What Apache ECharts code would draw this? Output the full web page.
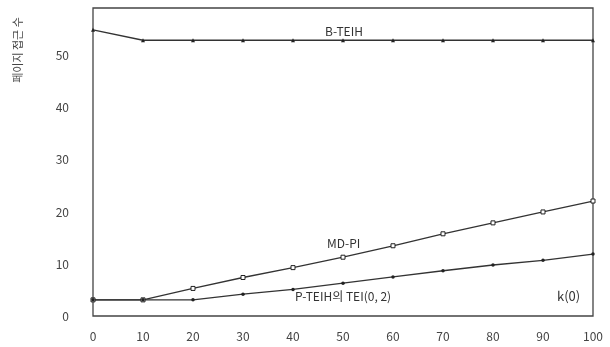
<!DOCTYPE html>
<html><head><meta charset="utf-8">
<script src="https://cdn.jsdelivr.net/npm/echarts@6/dist/echarts.min.js"></script>
<style>html,body{margin:0;padding:0;background:#fff}#c{width:610px;height:347px}</style>
</head><body><div id="c"></div>
<script>
const categories = [0,10,20,30,40,50,60,70,80,90,100];
const bTeih = [55,53,53,53,53,53,53,53,53,53,53];
const mdPi = [3.1,3.1,5.3,7.4,9.3,11.3,13.5,15.8,17.9,20,22.1];
const pTeih = [3.1,3.1,3.1,4.2,5.1,6.3,7.5,8.7,9.8,10.7,11.9];
const yTicks = [0,10,20,30,40,50];
const seriesNames = ['B-TEIH','MD-PI','P-TEIH의 TEI(0, 2)'];
const yTitle = '페이지 접근 수';
const xTitle = 'k(0)';

const font = '"Noto Sans CJK KR", "DejaVu Sans", sans-serif';
const chart = echarts.init(document.getElementById('c'), null, {renderer:'canvas'});
const lineStyle = {color:'#333', width:1.3};
chart.setOption({
  animation:false,
  backgroundColor:'#fff',
  grid:{left:93, right:17, top:8, bottom:31, show:true, borderColor:'#444', borderWidth:1.3, backgroundColor:'transparent'},
  xAxis:{type:'value', min:0, max:100, interval:10,
    axisLine:{show:false}, axisTick:{show:false}, splitLine:{show:false},
    axisLabel:{color:'#444', fontSize:12, fontFamily:font, margin:14}},
  yAxis:{type:'value', min:0, max:59.2, interval:10,
    axisLine:{show:false}, axisTick:{show:false}, splitLine:{show:false},
    axisLabel:{color:'#444', fontSize:12, fontFamily:font, margin:24, showMaxLabel:false,
      formatter:v => yTicks.includes(v) ? String(v) : ''}},
  series:[
    {name:seriesNames[0], type:'line', data:categories.map((c,i)=>[c,bTeih[i]]), symbol:'triangle', symbolSize:4,
      lineStyle:lineStyle, itemStyle:{color:'#222'}},
    {name:seriesNames[1], type:'line', data:categories.map((c,i)=>[c,mdPi[i]]), symbol:'rect', symbolSize:4,
      lineStyle:lineStyle, itemStyle:{color:'#fff', borderColor:'#222', borderWidth:1}},
    {name:seriesNames[2], type:'line', data:categories.map((c,i)=>[c,pTeih[i]]), symbol:'circle', symbolSize:3.5,
      lineStyle:lineStyle, itemStyle:{color:'#222'}}
  ],
  graphic:[
    {type:'text', left:325, top:25, style:{text:seriesNames[0], fill:'#333', font:'12px '+font}},
    {type:'text', left:327, top:237, style:{text:seriesNames[1], fill:'#333', font:'12px '+font}},
    {type:'text', left:295, top:290, style:{text:seriesNames[2], fill:'#333', font:'12px '+font}},
    {type:'text', left:557, top:290, style:{text:xTitle, fill:'#333', font:'13px '+font}},
    {type:'text', x:18, y:50, rotation:Math.PI/2, style:{text:yTitle, fill:'#444', font:'11px '+font, align:'center', verticalAlign:'middle'}}
  ]
});
</script></body></html>
